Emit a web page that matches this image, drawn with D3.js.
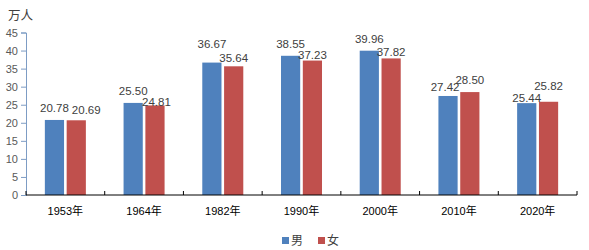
<!DOCTYPE html>
<html>
<head>
<meta charset="utf-8">
<script src="https://cdn.jsdelivr.net/npm/d3@7"></script>
<style>
  body { margin: 0; background: #fff; }
  svg { font-family: "Liberation Sans", Arial, "Noto Sans CJK SC", sans-serif; }
</style>
</head>
<body>
<svg width="589" height="250"></svg>
<script>
var years = ["1953年", "1964年", "1982年", "1990年", "2000年", "2010年", "2020年"];
var male = [20.78, 25.50, 36.67, 38.55, 39.96, 27.42, 25.44];
var female = [20.69, 24.81, 35.64, 37.23, 37.82, 28.50, 25.82];
var seriesNames = ["男", "女"];
var yTicks = [0, 5, 10, 15, 20, 25, 30, 35, 40, 45];

// hand-placed label nudges (as in the original chart)
var maleLabelDx = [0, 0, 0, 0, 0, -3, 0];
var maleLabelDy = [-8, -8, -15, -8, -8, -4.5, -1];
var femaleLabelDx = [10, 1.5, 0, 0, 0, 0, 0];
var femaleLabelDy = [-6, 1, -4.5, -2, -2, -8.5, -12];

var colors = ["#4f81bd", "#c0504d"];

var svg = d3.select("svg"),
    plotLeft = 26, plotRight = 577, plotTop = 32.5, plotBottom = 195;

var rows = years.map(function (y, i) {
    return { year: y, values: [male[i], female[i]], i: i };
});

var x0 = d3.scaleBand().domain(years).range([plotLeft, plotRight])
    .paddingInner(0.479).paddingOuter(0.2395);
var x1 = d3.scaleBand().domain(seriesNames).range([0, x0.bandwidth()]).paddingInner(0.12);
var y = d3.scaleLinear().domain([0, 45]).range([plotBottom, plotTop]);

// y axis
var yAxis = svg.append("g")
    .attr("transform", "translate(" + plotLeft + ",0)")
    .call(d3.axisLeft(y).tickValues(yTicks).tickSize(5).tickPadding(3));
yAxis.select(".domain").attr("stroke", "#7d9cc4");
yAxis.selectAll(".tick line").attr("stroke", "#7d9cc4");
yAxis.selectAll("text").attr("fill", "#595959").style("font-size", "11px")
    .style("font-family", "\"Liberation Sans\", Arial, sans-serif");

svg.append("text")
    .attr("x", 8).attr("y", 20)
    .attr("fill", "#404040")
    .style("font-size", "12.5px")
    .text("万人");

// bars
var groups = svg.selectAll(".grp")
    .data(rows)
    .enter().append("g")
    .attr("class", "grp")
    .attr("transform", function (d) { return "translate(" + x0(d.year) + ",0)"; });

groups.selectAll("rect")
    .data(function (d) { return d.values.map(function (v, k) { return { v: v, k: k }; }); })
    .enter().append("rect")
    .attr("x", function (d) { return x1(seriesNames[d.k]); })
    .attr("y", function (d) { return y(d.v); })
    .attr("width", x1.bandwidth())
    .attr("height", function (d) { return plotBottom - y(d.v); })
    .attr("fill", function (d) { return colors[d.k]; });

groups.selectAll(".lbl")
    .data(function (d) {
        return d.values.map(function (v, k) {
            return { v: v, k: k, dx: k ? femaleLabelDx[d.i] : maleLabelDx[d.i], dy: k ? femaleLabelDy[d.i] : maleLabelDy[d.i] };
        });
    })
    .enter().append("text")
    .attr("class", "lbl")
    .attr("x", function (d) { return x1(seriesNames[d.k]) + x1.bandwidth() / 2 + d.dx; })
    .attr("y", function (d) { return y(d.v) + d.dy; })
    .attr("text-anchor", "middle")
    .attr("fill", "#404040")
    .style("font-size", "11.5px")
    .text(function (d) { return d.v.toFixed(2); });

// x axis
var xg = svg.append("g");
xg.append("line")
    .attr("x1", plotLeft).attr("x2", plotRight)
    .attr("y1", plotBottom).attr("y2", plotBottom)
    .attr("stroke", "#000");
xg.selectAll(".xt")
    .data(d3.range(years.length + 1))
    .enter().append("line")
    .attr("x1", function (i) { return plotLeft + i * x0.step(); })
    .attr("x2", function (i) { return plotLeft + i * x0.step(); })
    .attr("y1", plotBottom).attr("y2", plotBottom - 4)
    .attr("stroke", "#000");
xg.selectAll(".xl")
    .data(years)
    .enter().append("text")
    .attr("x", function (d) { return x0(d) + x0.bandwidth() / 2; })
    .attr("y", 215)
    .attr("text-anchor", "middle")
    .attr("fill", "#000")
    .style("font-size", "11px")
    .text(function (d) { return d; });

// legend
var legend = svg.append("g");
var legX = [282, 318];
seriesNames.forEach(function (n, k) {
    legend.append("rect")
        .attr("x", legX[k]).attr("y", 237)
        .attr("width", 7).attr("height", 7)
        .attr("fill", colors[k]);
    legend.append("text")
        .attr("x", legX[k] + 9).attr("y", 245)
        .attr("fill", "#404040")
        .style("font-size", "12px")
        .text(n);
});
</script>
</body>
</html>
